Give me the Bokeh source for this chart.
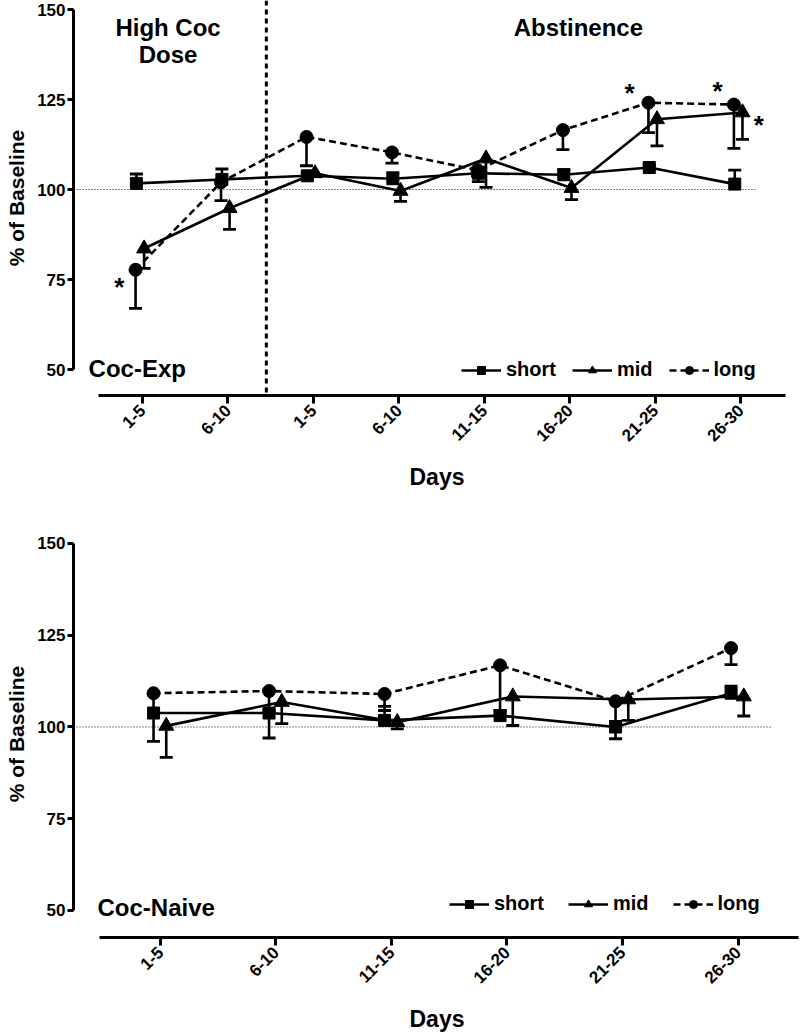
import numpy as np
from bokeh.plotting import figure
from bokeh.models import Range1d, FixedTicker, Span, Label, Legend, LegendItem, ColumnDataSource
from bokeh.layouts import column
from bokeh.embed import file_html
from bokeh.resources import INLINE
from bokeh.core.properties import value

# ---------------- data ----------------
top_days = ["1-5", "6-10", "1-5", "6-10", "11-15", "16-20", "21-25", "26-30"]
top_short = [101.7, 102.8, 103.8, 103.0, 104.5, 104.1, 106.1, 101.5]
top_short_err = [104.3, 105.7, 104.6, 104.7, 102.2, 105.5, 106.8, 105.4]
top_mid = [83.6, 94.8, 104.5, 99.6, 108.6, 100.4, 119.5, 121.4]
top_mid_err = [78.1, 88.9, 103.6, 96.7, 100.6, 97.2, 112.1, 113.9]
top_long = [77.7, 102.0, 114.6, 110.3, 105.4, 116.5, 124.1, 123.6]
top_long_err = [67.0, 96.9, 106.6, 107.3, 103.8, 111.1, 115.8, 111.4]

bot_days = ["1-5", "6-10", "11-15", "16-20", "21-25", "26-30"]
bot_short = [103.8, 103.8, 101.8, 103.1, 100.0, 109.2]
bot_short_err = [96.1, 97.0, 105.6, 104.0, 96.8, 111.1]
bot_mid = [100.3, 106.8, 101.3, 108.3, 107.5, 108.3]
bot_mid_err = [91.7, 100.9, 99.5, 100.4, 101.8, 103.0]
bot_long = [109.2, 109.8, 109.0, 116.8, 107.0, 121.5]
bot_long_err = [104.8, 104.5, 104.5, 104.5, 101.5, 117.0]

y_ticks = [50, 75, 100, 125, 150]
baseline = 100

# significance stars (annotation positions, data units)
star_x = [-0.27, 5.70, 6.73, 7.21]
star_y = [73.0, 126.8, 127.3, 117.8]

FONT = "Liberation Sans"


def style(p, n, xb, labels):
    p.grid.visible = False
    p.outline_line_color = None
    p.background_fill_color = "white"
    p.border_fill_color = "white"
    for ax in (p.xaxis[0], p.yaxis[0]):
        ax.axis_line_width = 3
        ax.major_tick_line_width = 3
        ax.minor_tick_line_color = None
        ax.major_tick_in = 0
        ax.major_label_text_font = FONT
        ax.major_label_text_font_style = "bold"
        ax.major_label_text_color = "black"
        ax.axis_label_text_font = FONT
        ax.axis_label_text_font_style = "bold"
        ax.axis_label_text_color = "black"
        ax.axis_line_color = "black"
        ax.major_tick_line_color = "black"
    yax = p.yaxis[0]
    yax.ticker = FixedTicker(ticks=y_ticks)
    yax.bounds = (50, 150)
    yax.major_tick_out = 6
    yax.major_label_text_font_size = "17px"
    yax.major_label_standoff = 2
    yax.axis_label = "% of Baseline"
    yax.axis_label_text_font_size = "21px"
    yax.axis_label_standoff = 6
    xax = p.xaxis[0]
    xax.ticker = FixedTicker(ticks=list(range(n)))
    xax.major_label_overrides = {i: lab for i, lab in enumerate(labels)}
    xax.bounds = xb
    xax.major_tick_out = 8
    xax.major_label_orientation = np.pi / 4
    xax.major_label_text_font_size = "17px"
    xax.major_label_standoff = 4
    xax.axis_label = "Days"
    xax.axis_label_text_font_size = "23px"
    xax.axis_label_standoff = 14


def draw_series(p, xs, ys, errs, marker, size, dash):
    src = ColumnDataSource(dict(x=xs, y=ys, e=errs))
    ln = p.line("x", "y", source=src, line_color="black", line_width=2.6,
                line_dash=dash)
    p.segment(x0="x", y0="y", x1="x", y1="e", source=src, line_color="black", line_width=2.6)
    p.scatter("x", "e", source=src, marker="dash", size=13, line_color="black", line_width=2.8)
    sc = p.scatter("x", "y", source=src, marker=marker, size=size,
                   fill_color="black", line_color="black")
    return ln, sc


def panel(days, short, short_err, mid, mid_err, long_, long_err, offs,
          height, xr, yr, xb, bl, bt, bb, name, name_x, name_y,
          leg_loc, leg_spacing, base_end):
    n = len(days)
    p = figure(width=800, height=height, x_range=Range1d(*xr), y_range=Range1d(*yr),
               min_border_left=bl, min_border_right=0, min_border_top=bt,
               min_border_bottom=bb, output_backend="svg", toolbar_location=None)
    style(p, n, xb, days)
    idx = np.arange(n)
    # baseline dotted line
    p.line([xr[0], n - 1 + base_end], [baseline, baseline], line_color="black",
           line_width=1, line_dash="1 2")
    r_s = draw_series(p, list(idx + offs[0]), short, short_err, "square", 12, "solid")
    r_m = draw_series(p, list(idx + offs[1]), mid, mid_err, "triangle", 15, "solid")
    r_l = draw_series(p, list(idx + offs[2]), long_, long_err, "circle", 13, "7 4")
    leg = Legend(items=[LegendItem(label="short", renderers=list(r_s)),
                        LegendItem(label="mid", renderers=list(r_m)),
                        LegendItem(label="long", renderers=list(r_l))],
                 orientation="horizontal", location=leg_loc,
                 padding=0, margin=0, spacing=leg_spacing,
                 glyph_width=40, glyph_height=20, label_height=20,
                 label_standoff=5, border_line_color=None,
                 background_fill_alpha=0,
                 label_text_font=FONT, label_text_font_style="bold",
                 label_text_font_size="20px", label_text_color="black")
    p.add_layout(leg)
    p.add_layout(Label(x=name_x, y=name_y, text=name, text_font=FONT,
                       text_font_style="bold", text_font_size="24px",
                       text_baseline="middle", text_align="left", text_color="black"))
    return p


p1 = panel(top_days, top_short, top_short_err, top_mid, top_mid_err, top_long, top_long_err,
           offs=(-0.07, 0.02, -0.08), height=500,
           xr=(-0.806, 7.699), yr=(42.78, 152.5), xb=(-0.514, 7.523),
           bl=72, bt=0, bb=105, name="Coc-Exp", name_x=-0.63, name_y=50.3,
           leg_loc=(388, 14), leg_spacing=16, base_end=0.17)

# phase separator
p1.add_layout(Span(location=1.45, dimension="height", line_color="black",
                   line_width=3, line_dash="5 4"))
for txt, xx, yy in [("High Coc", 0.30, 145.0), ("Dose", 0.30, 137.6), ("Abstinence", 5.10, 145.0)]:
    p1.add_layout(Label(x=xx, y=yy, text=txt, text_font=FONT, text_font_style="bold",
                        text_font_size="24px", text_align="center",
                        text_baseline="middle", text_color="black"))
p1.text(x=star_x, y=star_y, text=["*"] * len(star_x), text_font=value(FONT),
        text_font_style="bold", text_font_size="26px", text_align="center",
        text_baseline="middle", text_color="black")

p2 = panel(bot_days, bot_short, bot_short_err, bot_mid, bot_mid_err, bot_long, bot_long_err,
           offs=(-0.06, 0.05, -0.06), height=535,
           xr=(-0.753, 5.541), yr=(42.64, 153.54), xb=(-0.528, 5.524),
           bl=73, bt=30, bb=98, name="Coc-Naive", name_x=-0.545, name_y=50.8,
           leg_loc=(376, 22), leg_spacing=24, base_end=0.30)

layout = column(p1, p2, spacing=0)
open("out.html", "w").write(file_html(layout, INLINE))
